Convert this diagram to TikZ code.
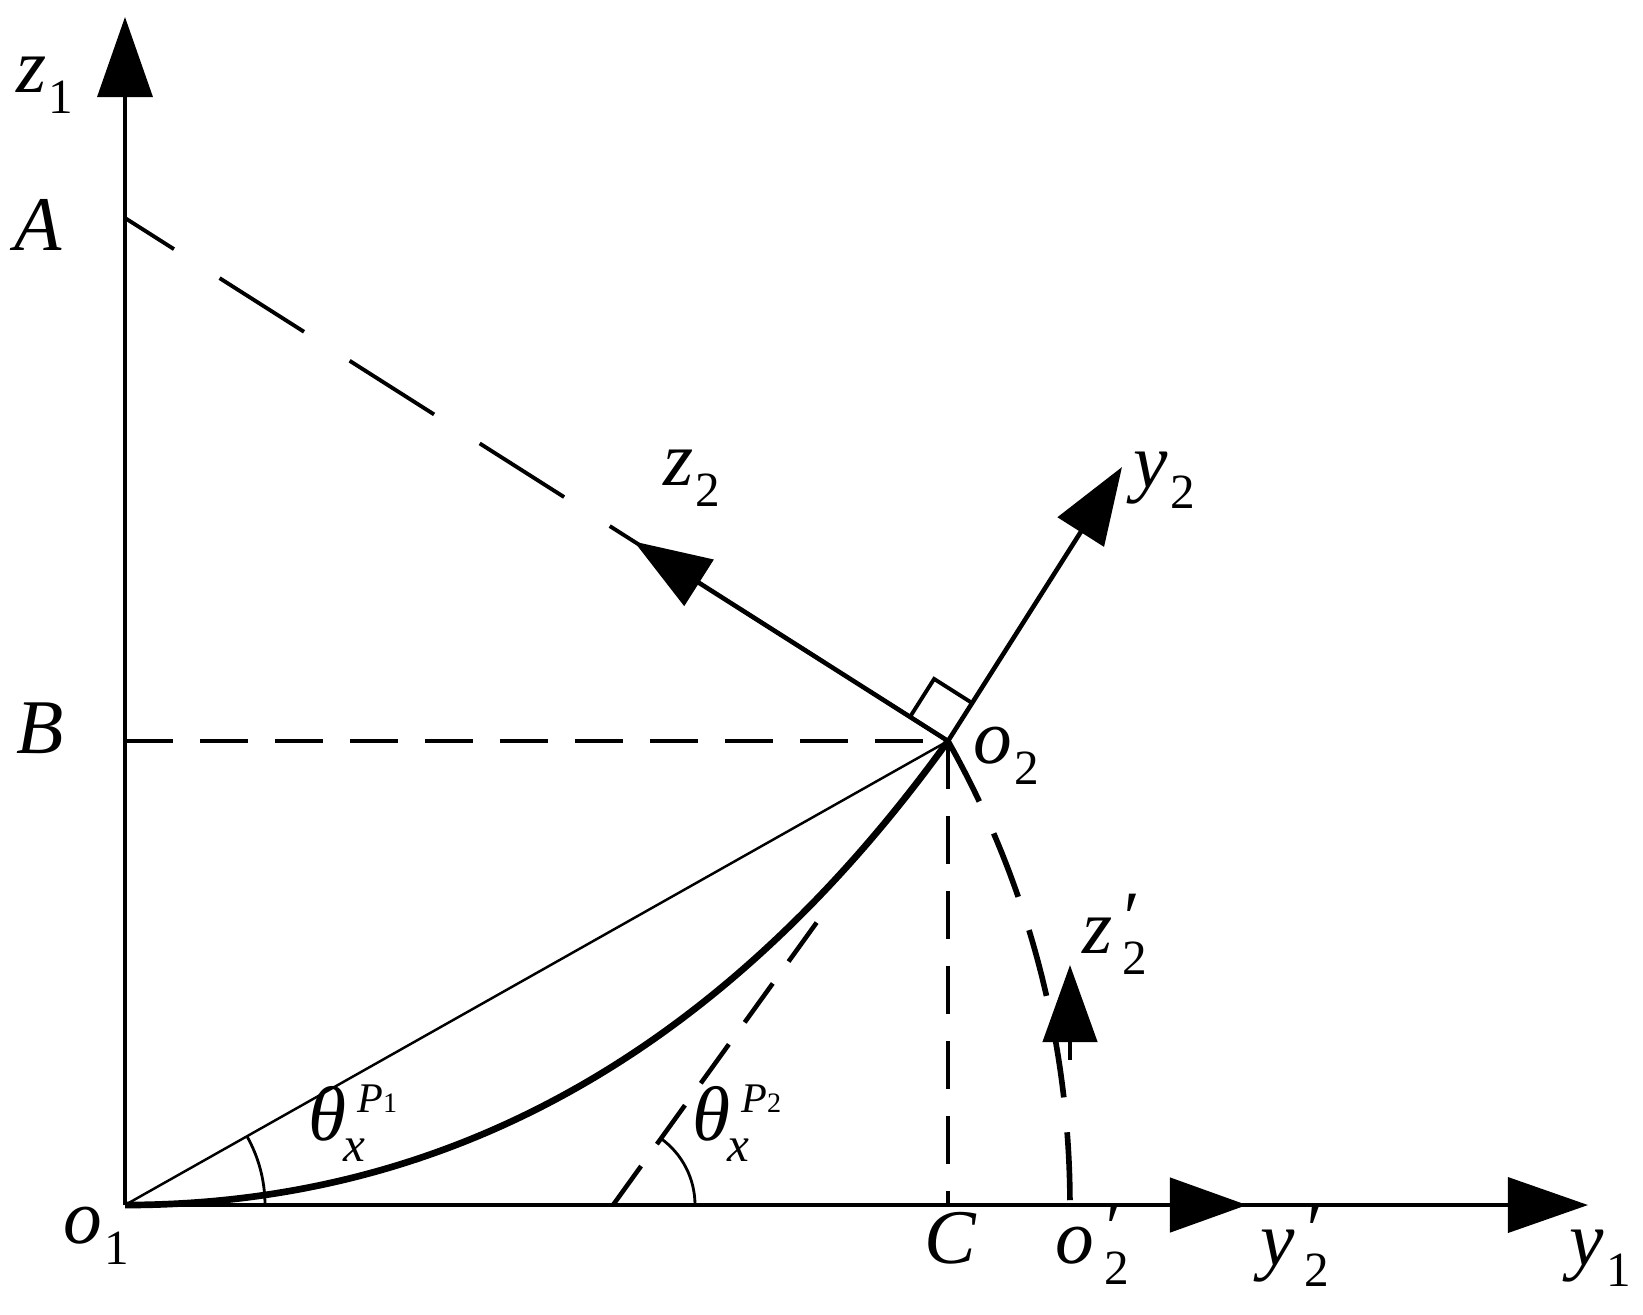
\documentclass[tikz,border=0pt]{standalone}
\usepackage{fontspec}
\setmainfont{Liberation Serif}
\usetikzlibrary{arrows.meta}
\newcommand\mainsz{\fontsize{22}{22}\selectfont}
\newcommand\subsz{\fontsize{14}{14}\selectfont}
\newcommand\lsub[2]{\textit{#1}\hspace{0.6pt}\raisebox{-6pt}{\subsz #2}}
\newcommand\lpsub[2]{\textit{#1}\hspace{2.8pt}\rlap{\hspace{-0.8pt}\raisebox{3pt}{\fontsize{21}{21}\selectfont\textit{′}}}\raisebox{-6pt}{\subsz #2}}
\newcommand\lth[1]{\textit{θ}\rlap{\hspace{3pt}\raisebox{7.7pt}{\fontsize{12}{12}\selectfont\textit{P}\fontsize{8}{8}\selectfont #1}}\hspace{-0.8pt}\raisebox{-6.2pt}{\fontsize{14}{14}\selectfont\textit{x}}}
\tikzset{
  axisarrow/.style={line width=1pt,-{Triangle[length=0.8cm,width=0.55cm]}},
  vecarrow/.style={line width=1.3pt,-{Triangle[length=0.77cm,width=0.54cm]}},
  dashlong/.style={line width=1.1pt,dash pattern=on 1cm off 0.54cm,dash phase=0.42cm},
  dashshort/.style={line width=1.3pt,dash pattern=on 0.48cm off 0.27cm},
  dasharc/.style={line width=1.6pt,dash pattern=on 0.68cm off 0.35cm},
  curvethick/.style={line width=1.9pt},
  thinline/.style={line width=0.7pt},
  anglemark/.style={line width=0.8pt},
  lbl/.style={inner sep=0pt,anchor=base west,font=\mainsz},
}
\begin{document}
\begin{tikzpicture}[x=0.01cm,y=-0.01cm]
\useasboundingbox (0,0) rectangle (1643,1314);
% key points
\coordinate (O1) at (125,1205);
\coordinate (Z1tip) at (125,17);
\coordinate (Y1tip) at (1588,1205);
\coordinate (A) at (125,218);
\coordinate (B) at (125,741);
\coordinate (O2) at (948,741);
\coordinate (C) at (948,1205);
\coordinate (O2p) at (1070,1205);
\coordinate (Y2ptip) at (1247,1205);
\coordinate (Z2pbase) at (1070,1060);
\coordinate (Z2ptip) at (1070,965);
\coordinate (Z2tip) at (634,541.5);
\coordinate (Y2tip) at (1122,467);
\coordinate (T) at (613,1205);
\coordinate (Tend) at (830,904);
% axes
\draw[axisarrow] (O1) -- (Z1tip);
\draw[axisarrow] (O1) -- (Y1tip);
% dashed construction lines
\draw[dashlong] (A) -- (O2);
\draw[dashshort] (B) -- (O2);
\draw[dashshort] (O2) -- (C);
\draw[dashshort] (T) -- (Tend);
\draw[dasharc] (O2) arc[start angle=-29.44,end angle=0,radius=944];
% chord and curve
\draw[thinline] (O1) -- (O2);
\draw[curvethick] (O1) .. controls (450,1205) and (725,1050) .. (O2);
% frame 2 vectors
\draw[vecarrow] (O2) -- (Z2tip);
\draw[vecarrow] (O2) -- (Y2tip);
\draw[vecarrow] (O2p) -- (Y2ptip);
\draw[vecarrow] (Z2pbase) -- (Z2ptip);
% right angle mark
\draw[line width=1.1pt] (O2) ++(-38,-24.1) -- ++(24.1,-38) -- ++(38,24.1);
% angle arcs
\draw[anglemark] (O1) ++(140,0) arc[start angle=0,end angle=-29.44,radius=140];
\draw[anglemark] (T) ++(82,0) arc[start angle=0,end angle=-54.17,radius=82];
% labels
\node[lbl] (lz1) at (16,92) {\lsub{z}{1}};
\node[lbl] (lA) at (14,250) {\textit{A}};
\node[lbl] (lB) at (16,753) {\textit{B}};
\node[lbl] (lo1) at (63,1243) {\lsub{o}{1}};
\node[lbl] (lC) at (924,1263) {\textit{C}};
\node[lbl] (lo2p) at (1055,1263) {\lpsub{o}{2}};
\node[lbl] (ly2p) at (1260,1265) {\lpsub{y}{2}};
\node[lbl] (ly1) at (1569,1265) {\lsub{y}{1}};
\node[lbl] (lo2) at (973,763) {\lsub{o}{2}};
\node[lbl] (lz2p) at (1082,953) {\lpsub{z}{2}};
\node[lbl] (lz2) at (663,485) {\lsub{z}{2}};
\node[lbl] (ly2) at (1133,487) {\lsub{y}{2}};
\node[lbl] (lth1) at (308,1140) {\lth{1}};
\node[lbl] (lth2) at (692,1140) {\lth{2}};
\end{tikzpicture}
\end{document}
